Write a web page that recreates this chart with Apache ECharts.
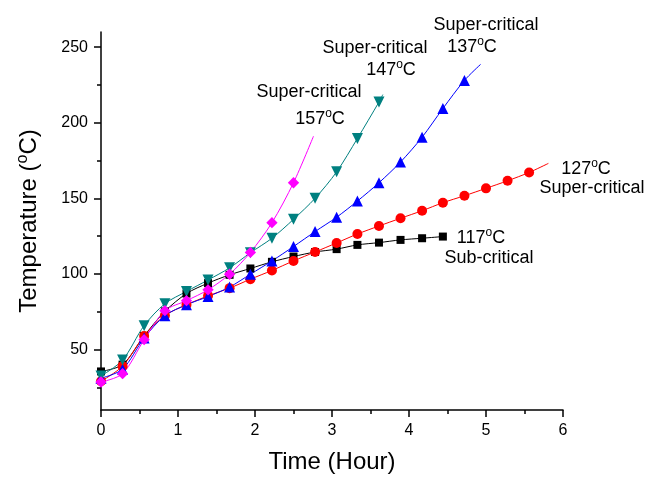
<!DOCTYPE html>
<html>
<head>
<meta charset="utf-8">
<script src="https://cdn.jsdelivr.net/npm/echarts@6/dist/echarts.min.js"></script>
<style>
  html, body { margin: 0; padding: 0; background: #fff; }
  #chart { width: 647px; height: 479px; }
</style>
</head>
<body>
<div id="chart"></div>
<script>
// sampling times (hour)
const times = [0, 0.28, 0.56, 0.83, 1.11, 1.39, 1.67, 1.94, 2.22, 2.5, 2.78, 3.06, 3.33, 3.61, 3.89, 4.17, 4.44, 4.72, 5.0, 5.28, 5.56];

// temperatures
const temp117 = [35.5, 40, 59, 75.2, 87, 93.9, 99.4, 103.6, 108, 111.5, 114.5, 116.4, 119.2, 120.7, 122.5, 123.6, 124.7];
const temp127 = [29, 39, 59, 72.5, 79.6, 85.5, 90.6, 96.5, 102.3, 108.6, 114.5, 120.5, 126.4, 131.7, 136.8, 141.8, 147.1, 151.7, 156.6, 161.6, 167.1];
const temp137 = [31, 37, 57.6, 72.4, 79.6, 85, 91.3, 99.8, 108.6, 118.1, 128, 137.5, 148.2, 160.3, 174, 190.4, 209.4, 228];
const temp147 = [32.5, 43, 65.8, 80.3, 88.4, 96, 104, 114, 123.6, 136.1, 150, 167.5, 189.6, 213.7];
const temp157 = [28.5, 34, 56.5, 75.7, 82.3, 89.5, 99.8, 114.2, 133.9, 160.3];

// where each fitted curve ends (past the last marker)
const tail127 = [5.81, 173.1];
const tail137 = [4.93, 238.6];
const tail147 = [3.66, 218.6];
const tail157 = [2.76, 191.1];

const yLabels = [50, 100, 150, 200, 250];
const yMinor = [25, 75, 125, 175, 225];

const FONT = 'Liberation Sans, Arial, sans-serif';

const makeData = (vals, tail) => {
  const d = vals.map((v, i) => [times[i], v]);
  if (tail) d.push({ value: tail, symbol: 'none' });
  return d;
};

const makeSeries = (name, vals, tail, color, symbol, size, rotate) => ({
  name: name,
  type: 'line',
  data: makeData(vals, tail),
  smooth: 0.3,
  symbol: symbol,
  symbolSize: size,
  symbolRotate: rotate || 0,
  showAllSymbol: true,
  itemStyle: { color: color },
  lineStyle: { color: color, width: 1 }
});

const tempText = (num) => ({
  text: '{a|' + num + '}{s|o}{a|C}',
  rich: {
    a: { fontFamily: FONT, fontSize: 18, color: '#000', lineHeight: 20, verticalAlign: 'bottom' },
    s: { fontFamily: FONT, fontSize: 12, color: '#000', lineHeight: 12, verticalAlign: 'top' }
  }
});

const label = (x, y, style) => ({
  type: 'text',
  x: x,
  y: y,
  style: Object.assign({
    fontFamily: FONT,
    fontSize: 18,
    fill: '#000',
    align: 'center',
    verticalAlign: 'middle'
  }, style)
});

const chartDom = document.getElementById('chart');
const myChart = echarts.init(chartDom);

const option = {
  animation: false,
  backgroundColor: '#fff',
  grid: { left: 101, right: 84, top: 32, bottom: 69 },
  xAxis: {
    type: 'value',
    min: 0,
    max: 6,
    interval: 1,
    name: 'Time (Hour)',
    nameLocation: 'middle',
    nameGap: 40,
    nameTextStyle: { fontFamily: FONT, fontSize: 24, color: '#000' },
    axisLine: { show: true, onZero: false, lineStyle: { color: '#000', width: 1.5 } },
    axisTick: { show: true, length: 7, lineStyle: { color: '#000', width: 1.5 } },
    minorTick: { show: true, splitNumber: 2, length: 4, lineStyle: { color: '#000', width: 1.5 } },
    axisLabel: { fontFamily: FONT, fontSize: 16, color: '#000', margin: 13 },
    splitLine: { show: false }
  },
  yAxis: [
    {
      type: 'value',
      min: 10,
      max: 260,
      name: '{a|Temperature (}{s|o}{a|C)}',
      nameLocation: 'middle',
      nameRotate: 90,
      nameGap: 60,
      nameTextStyle: {
        rich: {
          a: { fontFamily: FONT, fontSize: 24, color: '#000', lineHeight: 26, verticalAlign: 'bottom' },
          s: { fontFamily: FONT, fontSize: 16, color: '#000', lineHeight: 16, verticalAlign: 'top' }
        }
      },
      axisLine: { show: true, onZero: false, lineStyle: { color: '#000', width: 1.5 } },
      axisTick: { show: true, length: 7, customValues: yLabels, lineStyle: { color: '#000', width: 1.5 } },
      axisLabel: { fontFamily: FONT, fontSize: 16, color: '#000', margin: 13, customValues: yLabels },
      splitLine: { show: false }
    },
    {
      type: 'value',
      min: 10,
      max: 260,
      position: 'left',
      axisLine: { show: false },
      axisTick: { show: true, length: 4, customValues: yMinor, lineStyle: { color: '#000', width: 1.5 } },
      axisLabel: { show: false, customValues: yMinor },
      splitLine: { show: false }
    }
  ],
  series: [
    makeSeries('117', temp117, null, '#000000', 'rect', 8),
    makeSeries('127', temp127, tail127, '#ff0000', 'circle', 10),
    makeSeries('137', temp137, tail137, '#0000ff', 'triangle', 11),
    makeSeries('147', temp147, tail147, '#008080', 'triangle', 11, 180),
    makeSeries('157', temp157, tail157, '#ff00ff', 'rect', 8, 45)
  ],
  graphic: [
    label(309, 92, { text: 'Super-critical' }),
    label(320, 118, tempText(157)),
    label(375, 48, { text: 'Super-critical' }),
    label(391, 69, tempText(147)),
    label(486, 25, { text: 'Super-critical' }),
    label(472, 46, tempText(137)),
    label(586, 168, tempText(127)),
    label(592, 188, { text: 'Super-critical' }),
    label(481, 237, tempText(117)),
    label(489, 258, { text: 'Sub-critical' })
  ]
};

option && myChart.setOption(option);
</script>
</body>
</html>
